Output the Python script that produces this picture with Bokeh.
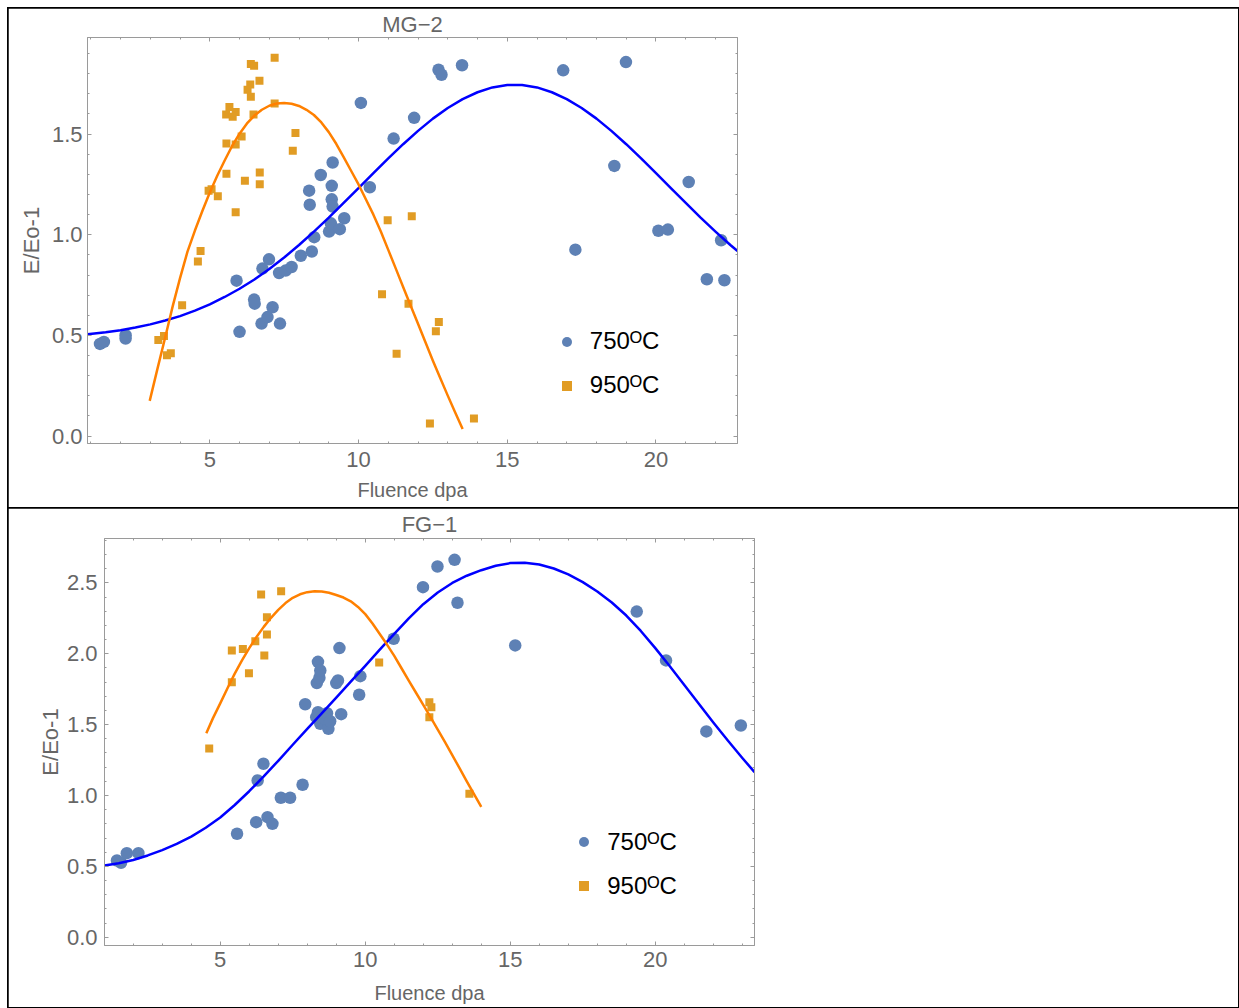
from bokeh.plotting import figure
from bokeh.models import (Range1d, LinearAxis, SingleIntervalTicker,
                          PrintfTickFormatter, Legend, LegendItem)
from bokeh.layouts import column
from bokeh.embed import file_html
from bokeh.resources import INLINE

# ---------------- MG-2 data ----------------
mg_750_x = [1.31, 1.44, 2.17, 2.17, 5.90, 6.00, 6.49, 6.51, 6.74, 6.77,
            6.94, 6.99, 7.11, 7.33, 7.36, 7.55, 7.75, 8.06, 8.34, 8.36,
            8.43, 8.51, 8.73, 9.01, 9.07, 9.10, 9.10, 9.13, 9.13, 9.37,
            9.52, 10.08, 10.38, 11.18, 11.87, 12.69, 12.79, 13.48, 16.88, 17.29,
            18.60, 18.99, 20.08, 20.40, 21.10, 21.71, 22.19, 22.30]
mg_750_y = [0.458, 0.468, 0.501, 0.485, 0.772, 0.518, 0.678, 0.658, 0.559, 0.832,
            0.591, 0.878, 0.640, 0.810, 0.559, 0.822, 0.840, 0.896, 1.219, 1.149,
            0.917, 0.988, 1.297, 1.016, 1.057, 1.243, 1.176, 1.359, 1.140, 1.028,
            1.082, 1.655, 1.236, 1.478, 1.581, 1.820, 1.795, 1.842, 1.817, 0.926,
            1.342, 1.858, 1.020, 1.026, 1.262, 0.779, 0.973, 0.774]
mg_950_x = [3.27, 3.46, 3.56, 3.69, 4.07, 4.60, 4.69, 4.96, 5.06, 5.27,
            5.55, 5.56, 5.56, 5.66, 5.77, 5.87, 5.87, 5.87, 6.07, 6.18,
            6.27, 6.36, 6.38, 6.38, 6.47, 6.49, 6.67, 6.68, 6.68, 7.18,
            7.18, 7.79, 7.88, 10.79, 10.98, 11.28, 11.68, 11.79, 12.40, 12.60,
            12.70, 13.88]
mg_950_y = [0.477, 0.497, 0.402, 0.412, 0.650, 0.867, 0.919, 1.219, 1.226, 1.191,
            1.597, 1.453, 1.303, 1.635, 1.586, 1.610, 1.449, 1.112, 1.488, 1.269,
            1.721, 1.746, 1.848, 1.686, 1.597, 1.840, 1.765, 1.310, 1.251, 1.879,
            1.652, 1.417, 1.506, 0.704, 1.072, 0.409, 0.657, 1.092, 0.062, 0.521,
            0.567, 0.087]
mg_fit750_x = [0.89, 1.5, 2.0, 2.5, 3.0, 3.5, 4.0, 4.5, 5.0, 5.5, 6.0, 6.5,
               7.0, 7.5, 8.0, 8.5, 9.0, 9.5, 10.0, 10.5, 11.0, 11.5, 12.0,
               12.5, 13.0, 13.5, 14.0, 14.5, 15.0, 15.5, 16.0, 16.5, 17.0,
               17.5, 18.0, 18.5, 19.0, 19.5, 20.0, 20.5, 21.0, 21.5, 22.0,
               22.5, 22.74]
mg_fit750_y = [0.506, 0.516, 0.526, 0.539, 0.555, 0.574, 0.596, 0.623, 0.654,
               0.691, 0.732, 0.778, 0.830, 0.887, 0.949, 1.016, 1.085, 1.158,
               1.232, 1.306, 1.380, 1.450, 1.516, 1.577, 1.630, 1.674, 1.708,
               1.732, 1.744, 1.744, 1.732, 1.708, 1.674, 1.630, 1.577, 1.516,
               1.450, 1.380, 1.306, 1.232, 1.158, 1.085, 1.016, 0.949, 0.919]
mg_fit950_x = [2.98, 3.25, 3.5, 3.75, 4.0, 4.25, 4.5, 4.75, 5.0, 5.25, 5.5,
               5.75, 6.0, 6.25, 6.5, 6.75, 7.0, 7.25, 7.5, 7.75, 8.0, 8.25,
               8.5, 8.75, 9.0, 9.25, 9.5, 9.75, 10.0, 10.25, 10.5, 10.75,
               11.0, 11.25, 11.5, 11.75, 12.0, 12.25, 12.5, 12.75, 13.0,
               13.25, 13.5]
mg_fit950_y = [0.175, 0.340, 0.490, 0.643, 0.785, 0.916, 1.021, 1.118, 1.210,
               1.293, 1.369, 1.441, 1.502, 1.553, 1.592, 1.621, 1.641, 1.652,
               1.655, 1.651, 1.640, 1.621, 1.595, 1.558, 1.510, 1.452, 1.386,
               1.318, 1.250, 1.175, 1.100, 1.016, 0.925, 0.833, 0.741, 0.649,
               0.558, 0.466, 0.374, 0.287, 0.201, 0.117, 0.035]

# ---------------- FG-1 data ----------------
fg_750_x = [1.44, 1.58, 1.78, 2.18, 5.58, 6.24, 6.29, 6.49, 6.63, 6.80,
            7.09, 7.41, 7.84, 7.93, 8.31, 8.33, 8.37, 8.37, 8.42, 8.45,
            8.45, 8.62, 8.68, 8.73, 8.79, 9.00, 9.06, 9.11, 9.17, 9.79,
            9.83, 10.98, 11.99, 12.49, 13.08, 13.18, 15.17, 19.36, 20.37, 21.76,
            22.95]
fg_750_y = [0.541, 0.525, 0.593, 0.593, 0.730, 0.812, 1.106, 1.224, 0.847, 0.800,
            0.984, 0.984, 1.076, 1.644, 1.553, 1.793, 1.943, 1.588, 1.831, 1.882,
            1.506, 1.541, 1.581, 1.471, 1.524, 1.793, 1.812, 2.040, 1.574, 1.711,
            1.842, 2.106, 2.470, 2.616, 2.663, 2.360, 2.059, 2.298, 1.953, 1.452,
            1.494]
fg_950_x = [4.62, 5.40, 5.40, 5.78, 5.99, 6.21, 6.41, 6.52, 6.61, 6.61,
            7.10, 10.48, 12.21, 12.28, 12.21, 13.59]
fg_950_y = [1.332, 2.023, 1.800, 2.033, 1.863, 2.089, 2.418, 1.988, 2.258, 2.136,
            2.442, 1.939, 1.658, 1.623, 1.553, 1.012]
fg_fit750_x = [1.01, 1.5, 2.0, 2.5, 3.0, 3.5, 4.0, 4.5, 5.0, 5.5, 6.0, 6.5,
               7.0, 7.5, 8.0, 8.5, 9.0, 9.5, 10.0, 10.5, 11.0, 11.5, 12.0,
               12.5, 13.0, 13.5, 14.0, 14.5, 15.0, 15.5, 16.0, 16.5, 17.0,
               17.5, 18.0, 18.5, 19.0, 19.5, 20.0, 20.5, 21.0, 21.5, 22.0,
               22.5, 23.0, 23.42]
fg_fit750_y = [0.506, 0.522, 0.545, 0.577, 0.615, 0.658, 0.710, 0.772, 0.845,
               0.933, 1.030, 1.135, 1.245, 1.358, 1.470, 1.580, 1.690, 1.803,
               1.915, 2.029, 2.140, 2.250, 2.350, 2.433, 2.500, 2.551, 2.590,
               2.621, 2.640, 2.643, 2.630, 2.602, 2.560, 2.506, 2.440, 2.362,
               2.270, 2.161, 2.040, 1.912, 1.780, 1.647, 1.515, 1.388, 1.265,
               1.165]
fg_fit950_x = [4.52, 4.75, 5.0, 5.25, 5.5, 5.75, 6.0, 6.25, 6.5, 6.75, 7.0,
               7.25, 7.5, 7.75, 8.0, 8.25, 8.5, 8.75, 9.0, 9.25, 9.5, 9.75,
               10.0, 10.25, 10.5, 10.75, 11.0, 11.25, 11.5, 11.75, 12.0,
               12.25, 12.5, 12.75, 13.0, 13.25, 13.5, 13.75, 14.0]
fg_fit950_y = [1.440, 1.546, 1.650, 1.757, 1.860, 1.954, 2.040, 2.119, 2.190,
               2.254, 2.310, 2.358, 2.395, 2.420, 2.435, 2.442, 2.440, 2.431,
               2.415, 2.397, 2.370, 2.331, 2.280, 2.214, 2.140, 2.065, 1.985,
               1.898, 1.810, 1.725, 1.640, 1.553, 1.465, 1.376, 1.285, 1.193,
               1.100, 1.010, 0.920]

# ---------------- texts ----------------
titles = ["MG\u22122", "FG\u22121"]
x_label = "Fluence dpa"
y_label = "E/Eo-1"
legend_labels = ["750\u1d3cC", "950\u1d3cC"]

FONT = "'Liberation Sans', Arial, sans-serif"
LABEL_GRAY = "#666666"
FRAME_GRAY = "#9a9a9a"
PT_BLUE = "#5E81B5"
PT_ORANGE = "#E19C24"
FIT_BLUE = "#0000FF"
FIT_ORANGE = "#FF8000"
FRAME_W = 650


def style_axis(ax, ticker, fmt, labels):
    ax.ticker = ticker
    ax.formatter = fmt
    ax.axis_line_color = FRAME_GRAY
    ax.major_tick_line_color = FRAME_GRAY
    ax.minor_tick_line_color = FRAME_GRAY
    ax.major_tick_in = 4
    ax.major_tick_out = 0
    ax.minor_tick_in = 2
    ax.minor_tick_out = 0
    if labels:
        ax.major_label_text_color = LABEL_GRAY
        ax.major_label_text_font = FONT
        ax.major_label_text_font_size = "22px"
    else:
        ax.major_label_text_color = None
        ax.major_label_text_alpha = 0
        ax.major_label_text_font_size = "0px"
        ax.major_label_standoff = 0


def make_panel(title, xr, yr, left, top, fh, bottom,
               p750, p950, f750, f950, leg_loc,
               ytick_so, ylab_so, xtick_so, xlab_so, title_so):
    p = figure(frame_width=FRAME_W, frame_height=fh,
               min_border_left=left, min_border_right=1230 - left - FRAME_W,
               min_border_top=top, min_border_bottom=bottom,
               x_range=Range1d(*xr), y_range=Range1d(*yr),
               output_backend="svg", toolbar_location=None)
    p.frame_align = False
    p.title.text = title
    p.title.align = "center"
    p.title.text_font = FONT
    p.title.text_font_size = "22px"
    p.title.text_font_style = "normal"
    p.title.text_color = LABEL_GRAY
    p.title.standoff = title_so
    p.outline_line_color = FRAME_GRAY
    p.xgrid.visible = False
    p.ygrid.visible = False

    style_axis(p.xaxis[0], SingleIntervalTicker(interval=5, num_minor_ticks=5),
               PrintfTickFormatter(format="%d"), True)
    style_axis(p.yaxis[0], SingleIntervalTicker(interval=0.5, num_minor_ticks=5),
               PrintfTickFormatter(format="%.1f"), True)
    p.xaxis[0].major_label_standoff = xtick_so
    p.yaxis[0].major_label_standoff = ytick_so
    p.xaxis[0].axis_label = x_label
    p.yaxis[0].axis_label = y_label
    p.xaxis[0].axis_label_text_font = FONT
    p.xaxis[0].axis_label_text_font_size = "20px"
    p.xaxis[0].axis_label_text_font_style = "normal"
    p.xaxis[0].axis_label_text_color = LABEL_GRAY
    p.xaxis[0].axis_label_standoff = xlab_so
    p.yaxis[0].axis_label_text_font = FONT
    p.yaxis[0].axis_label_text_font_size = "22px"
    p.yaxis[0].axis_label_text_font_style = "normal"
    p.yaxis[0].axis_label_text_color = LABEL_GRAY
    p.yaxis[0].axis_label_standoff = ylab_so

    top_ax = LinearAxis()
    style_axis(top_ax, SingleIntervalTicker(interval=5, num_minor_ticks=5),
               PrintfTickFormatter(format="%d"), False)
    p.add_layout(top_ax, "above")
    right_ax = LinearAxis()
    style_axis(right_ax, SingleIntervalTicker(interval=0.5, num_minor_ticks=5),
               PrintfTickFormatter(format="%.1f"), False)
    p.add_layout(right_ax, "right")

    r750 = p.scatter(p750[0], p750[1], marker="circle", size=12.5,
                     fill_color=PT_BLUE, line_color=None)
    r950 = p.scatter(p950[0], p950[1], marker="square", size=8,
                     fill_color=PT_ORANGE, line_color=None)
    p.line(f750[0], f750[1], line_color=FIT_BLUE, line_width=2.5,
           line_join="round")
    p.line(f950[0], f950[1], line_color=FIT_ORANGE, line_width=2.5,
           line_join="round")

    leg = Legend(items=[LegendItem(label=legend_labels[0], renderers=[r750]),
                        LegendItem(label=legend_labels[1], renderers=[r950])],
                 location=leg_loc, border_line_alpha=0, background_fill_alpha=0,
                 padding=0, margin=0, spacing=16, glyph_width=25, glyph_height=25,
                 label_standoff=11, label_text_font=FONT,
                 label_text_font_size="24px", label_text_color="black")
    p.add_layout(leg)
    return p


p1 = make_panel(titles[0], (0.889, 22.74), (-0.0368, 1.980),
                79, 29, 406, 65,
                (mg_750_x, mg_750_y), (mg_950_x, mg_950_y),
                (mg_fit750_x, mg_fit750_y), (mg_fit950_x, mg_fit950_y),
                (466.8, 43.6), 5, 5, 8, 9, 2)
p2 = make_panel(titles[1], (1.010, 23.42), (-0.0586, 2.8136),
                96, 30, 407, 62,
                (fg_750_x, fg_750_y), (fg_950_x, fg_950_y),
                (fg_fit750_x, fg_fit750_y), (fg_fit950_x, fg_fit950_y),
                (467.2, 45.3), 7, 1, 6, 12, 3)

for p in (p1, p2):
    p.styles = {"outline": "2px solid #000000", "outline-offset": "-1px"}

layout = column(p1, p2, spacing=0, margin=(8, 0, 0, 8))
open("out.html", "w").write(file_html(layout, INLINE))
